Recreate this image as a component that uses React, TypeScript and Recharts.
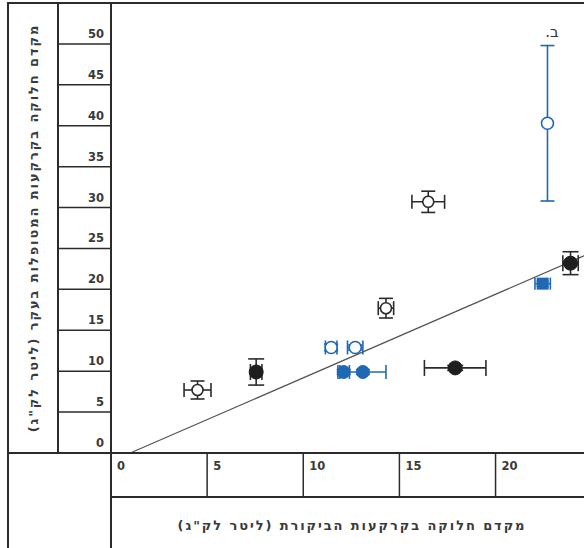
import { ErrorBar, ReferenceLine, Scatter, ScatterChart, XAxis, YAxis } from 'recharts';

// x = control soil, y = treated soil, ex / ey = error half widths
const openBlack = [
  { x: 4.5, y: 7.7, ex: 0.7, ey: 1.1 },
  { x: 14.3, y: 17.7, ex: 0.4, ey: 1.2 },
  { x: 16.5, y: 30.7, ex: 0.85, ey: 1.3 },
];
const filledBlack = [
  { x: 7.55, y: 9.9, ex: 0.3, ey: 1.6 },
  { x: 17.9, y: 10.4, ex: 1.6, ey: 0.3 },
  { x: 23.9, y: 23.2, ex: 0.4, ey: 1.4 },
];
const openBlue = [
  { x: 11.45, y: 12.9, ex: 0.3, ey: 0.4 },
  { x: 12.7, y: 12.9, ex: 0.4, ey: 0.3 },
  { x: 22.7, y: 40.3, ex: 0, ey: 9.5 },
];
const filledBlue = [
  { x: 12.1, y: 9.9, ex: 0.3, ey: 0.3 },
  { x: 13.1, y: 9.9, ex: 1.2, ey: 0.3 },
];
const blueSquare = [{ x: 22.45, y: 20.7, ex: 0.4, ey: 0.3 }];

const xTicks = [0, 5, 10, 15, 20];
const yTicks = [0, 5, 10, 15, 20, 25, 30, 35, 40, 45, 50];
const fitLine = [{ x: 1, y: 0 }, { x: 24.6, y: 24.1 }];

const xTitle = 'מקדם חלוקה בקרקעות הביקורת (ליטר לק"ג)';
const yTitle = 'מקדם חלוקה בקרקעות המטופלות בעקר (ליטר לק"ג)';
const panelLabel = 'ב.';

const INK = '#2b2b2b';
const BLUE = '#1f68b3';
const FONT = '"DejaVu Sans", Verdana, sans-serif';

const XTick = ({ x, y, payload }: any) => (
  <g>
    <line x1={x} y1={y} x2={x} y2={y + 44} stroke={INK} strokeWidth={1.5} />
    <text x={x + 6} y={y + 17} fontSize={11.5} fontWeight="bold" fill="#3a3a3a" fontFamily={FONT}>
      {payload.value}
    </text>
  </g>
);

const YTick = ({ x, y, payload }: any) => (
  <g>
    <line x1={x - 53} y1={y} x2={x} y2={y} stroke={INK} strokeWidth={1.5} />
    <text x={x - 7} y={y - 6} textAnchor="end" fontSize={11.5} fontWeight="bold" fill="#3a3a3a" fontFamily={FONT}>
      {payload.value}
    </text>
  </g>
);

const openDot = (color: string, r: number) => (p: any) =>
  <circle cx={p.cx} cy={p.cy} r={r} fill="#fff" stroke={color} strokeWidth={1.6} />;
const fullDot = (color: string, r: number) => (p: any) =>
  <circle cx={p.cx} cy={p.cy} r={r} fill={color} stroke={color} strokeWidth={1} />;
const squareDot = (p: any) =>
  <rect x={p.cx - 6} y={p.cy - 6} width={12} height={12} fill={BLUE} />;

const hl = (left: number, top: number, width: number) => (
  <div style={{ position: 'absolute', left, top, width, height: 2, background: INK }} />
);
const vl = (left: number, top: number, height: number) => (
  <div style={{ position: 'absolute', left, top, width: 2, height, background: INK }} />
);

function bars(color: string, w: number) {
  return [
    <ErrorBar key="ex" dataKey="ex" direction="x" width={w} stroke={color} strokeWidth={1.6} />,
    <ErrorBar key="ey" dataKey="ey" direction="y" width={w} stroke={color} strokeWidth={1.6} />,
  ];
}

const titleStyle = {
  position: 'absolute' as const,
  whiteSpace: 'nowrap' as const,
  direction: 'rtl' as const,
  fontFamily: FONT,
  fontSize: 13,
  fontWeight: 600,
  letterSpacing: 1.9,
  color: '#3a3a3a',
};

export default function App() {
  return (
    <div style={{ position: 'absolute', left: 0, top: 0, width: 584, height: 548, background: '#fff', overflow: 'hidden' }}>
      <ScatterChart width={584} height={548} margin={{ top: 3, right: 0, bottom: 51, left: 58 }}>
        <XAxis
          type="number"
          dataKey="x"
          domain={[0, 24.6]}
          ticks={xTicks}
          height={44}
          axisLine={false}
          tickLine={false}
          tickSize={0}
          tickMargin={0}
          tick={<XTick />}
        />
        <YAxis
          type="number"
          dataKey="y"
          domain={[0, 55]}
          ticks={yTicks}
          width={53}
          axisLine={false}
          tickLine={false}
          tickSize={0}
          tickMargin={0}
          tick={<YTick />}
        />
        <ReferenceLine segment={fitLine} stroke="#555" strokeWidth={1.3} />
        <Scatter data={openBlack} shape={openDot(INK, 5.5)} isAnimationActive={false}>
          {bars(INK, 7)}
        </Scatter>
        <Scatter data={filledBlack} shape={fullDot('#1e1e1e', 7)} isAnimationActive={false}>
          {bars(INK, 8)}
        </Scatter>
        <Scatter data={blueSquare} shape={squareDot} isAnimationActive={false}>
          {bars(BLUE, 6)}
        </Scatter>
        <Scatter data={filledBlue} shape={fullDot(BLUE, 6.5)} isAnimationActive={false}>
          {bars(BLUE, 7)}
        </Scatter>
        <Scatter data={openBlue} shape={openDot(BLUE, 6)} isAnimationActive={false}>
          {bars(BLUE, 7)}
        </Scatter>
      </ScatterChart>

      {hl(8, 2, 576)}
      {hl(8, 452, 576)}
      {hl(111, 496, 473)}
      {vl(7, 2, 546)}
      {vl(57, 2, 451)}
      {vl(110, 2, 546)}

      <div style={{ ...titleStyle, left: 33, top: 228, transform: 'translate(-50%, -50%) rotate(-90deg)' }}>
        {yTitle}
      </div>
      <div style={{ ...titleStyle, left: 352, top: 525, transform: 'translate(-50%, -50%)' }}>
        {xTitle}
      </div>
      <div
        style={{
          position: 'absolute',
          left: 552,
          top: 32,
          transform: 'translate(-50%, -50%)',
          direction: 'rtl',
          fontFamily: FONT,
          fontSize: 15,
          color: '#333',
        }}
      >
        {panelLabel}
      </div>
    </div>
  );
}
